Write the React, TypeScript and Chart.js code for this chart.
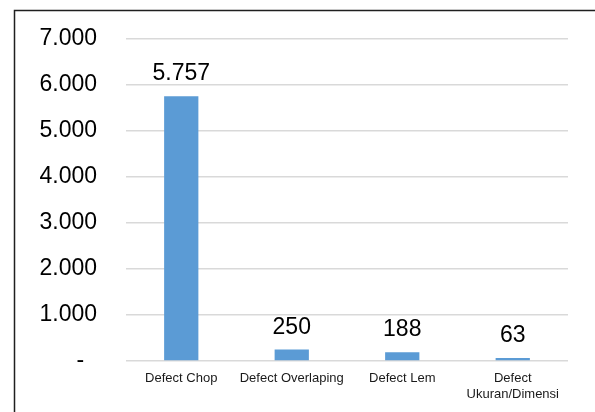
import React, { useEffect, useRef } from "react";
import { Chart, registerables } from "chart.js";

Chart.register(...registerables);

const categories: (string | string[])[] = [
  "Defect Chop",
  "Defect Overlaping",
  "Defect Lem",
  ["Defect", "Ukuran/Dimensi"],
];
const defectCounts = [5757, 250, 188, 63];
const yTickValues = [0, 1000, 2000, 3000, 4000, 5000, 6000, 7000];

const FONT = "'Liberation Sans', Arial, sans-serif";

function fmt(v: number): string {
  if (v === 0) return "-  ";
  return String(Math.round(v)).replace(/\B(?=(\d{3})+(?!\d))/g, ".");
}

const framePlugin = {
  id: "frame",
  beforeDraw(chart: any) {
    const ctx = chart.ctx;
    ctx.save();
    ctx.fillStyle = "#ffffff";
    ctx.fillRect(0, 0, chart.width, chart.height);
    ctx.strokeStyle = "#1f1f1f";
    ctx.lineWidth = 1.5;
    ctx.beginPath();
    ctx.moveTo(14.5, chart.height);
    ctx.lineTo(14.5, 10.5);
    ctx.lineTo(chart.width, 10.5);
    ctx.stroke();
    ctx.restore();
  },
};

const labelPlugin = {
  id: "barLabels",
  afterDatasetsDraw(chart: any) {
    const ctx = chart.ctx;
    const meta = chart.getDatasetMeta(0);
    ctx.save();
    ctx.font = `23px ${FONT}`;
    ctx.fillStyle = "#000000";
    ctx.textAlign = "center";
    ctx.textBaseline = "alphabetic";
    meta.data.forEach((bar: any, i: number) => {
      ctx.fillText(fmt(defectCounts[i]), bar.x, bar.y - 16);
    });
    ctx.restore();
  },
};

export default function App() {
  const ref = useRef<HTMLCanvasElement | null>(null);
  useEffect(() => {
    if (!ref.current) return;
    const chart = new Chart(ref.current, {
      type: "bar",
      data: {
        labels: categories,
        datasets: [
          {
            data: defectCounts,
            backgroundColor: "#5b9bd5",
            categoryPercentage: 1,
            barPercentage: 0.31,
          },
        ],
      },
      options: {
        responsive: false,
        animation: false,
        layout: { padding: { top: 39, right: 27, left: 0, bottom: 0 } },
        plugins: { legend: { display: false }, tooltip: { enabled: false } },
        scales: {
          x: {
            grid: { display: false, drawTicks: false },
            border: { display: false },
            ticks: {
              color: "#1a1a1a",
              font: { family: FONT, size: 13 },
              padding: 10,
              maxRotation: 0,
              autoSkip: false,
            },
            afterFit: (s: any) => {
              s.height = 51;
              s.paddingLeft = 0;
              s.paddingRight = 0;
            },
          },
          y: {
            min: 0,
            max: 7000,
            afterBuildTicks: (s: any) => {
              s.ticks = yTickValues.map((v) => ({ value: v }));
            },
            grid: { color: "#d9d9d9", lineWidth: 1.5, drawTicks: false },
            border: { display: false },
            ticks: {
              color: "#000000",
              font: { family: FONT, size: 23 },
              padding: 29,
              callback: (v: any) => fmt(Number(v)),
            },
            afterFit: (s: any) => {
              s.width = 126;
              s.paddingTop = 0;
              s.paddingBottom = 0;
            },
          },
        },
      },
      plugins: [framePlugin, labelPlugin],
    });
    return () => chart.destroy();
  }, []);
  return (
    <div style={{ position: "absolute", left: 0, top: 0, width: 595, height: 412 }}>
      <canvas ref={ref} width={595} height={412} style={{ display: "block" }} />
    </div>
  );
}
